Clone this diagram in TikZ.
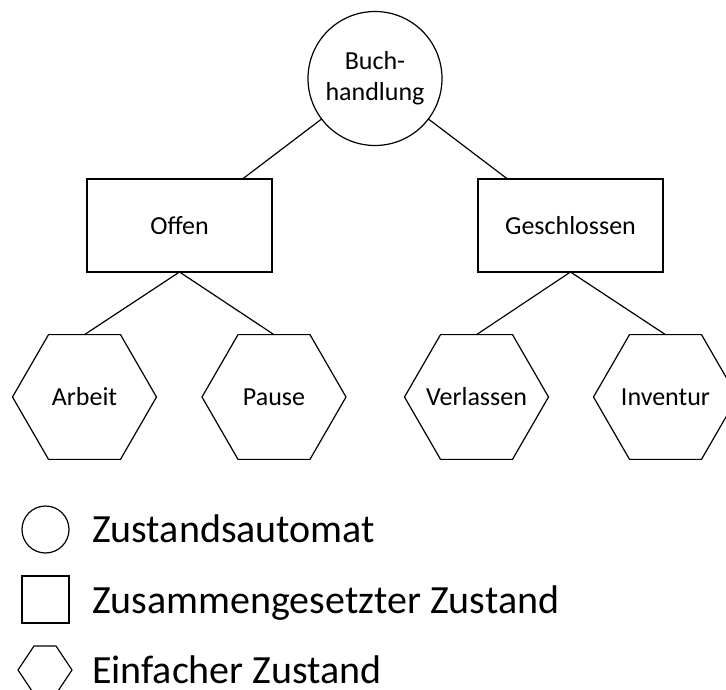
\documentclass[tikz,border=0pt]{standalone}
\usepackage{fontspec}
\setmainfont{Carlito}
\usetikzlibrary{shapes.geometric}

\begin{document}
\begin{tikzpicture}[x=1pt, y=-1pt, line width=1.2pt,
    every node/.style={inner sep=0pt, outer sep=0pt, font=\fontsize{26}{31}\selectfont},
    automat/.style={draw, circle, minimum size=134pt, align=center},
    zusammen/.style={draw, rectangle, minimum width=185pt, minimum height=93pt},
    einfach/.style={draw, regular polygon, regular polygon sides=6, minimum size=144pt, inner xsep=-30pt},
    legtext/.style={anchor=base west, font=\fontsize{40}{48}\selectfont}]
  \useasboundingbox (0,0) rectangle (726,690);
  % state machine
  \node[automat] (buch) at (375,78.5) {Buch-\\handlung};
  \node[zusammen] (offen) at (179.5,225.5) {Offen};
  \node[zusammen] (geschl) at (570.5,225.5) {Geschlossen};
  % simple states
  \node[einfach] (arbeit) at (84.5,397) {Arbeit};
  \node[einfach] (pause) at (274,397) {Pause};
  \node[einfach] (verl) at (476.5,397) {Verlassen};
  \node[einfach] (inv) at (665.5,397) {Inventur};
  % connections
  \draw (buch) -- ([xshift=63pt]offen.north);
  \draw (buch) -- ([xshift=-63pt]geschl.north);
  \draw (offen.south) -- (arbeit.north);
  \draw (offen.south) -- (pause.north);
  \draw (geschl.south) -- (verl.north);
  \draw (geschl.south) -- (inv.north);
  % legend
  \node[draw, circle, minimum size=47pt] (legcirc) at (45.5,529.5) {};
  \node[draw, rectangle, minimum size=47pt] (legrect) at (45.5,599.5) {};
  \draw (18,670) -- (34,646) -- (56,646) -- (72,670) -- (56,694) -- (34,694) -- cycle;
  \node[legtext] (legautomat) at (92,542) {Zustandsautomat};
  \node[legtext] (legzusammen) at (92,613) {Zusammengesetzter Zustand};
  \node[legtext] (legeinfach) at (92,683) {Einfacher Zustand};
\end{tikzpicture}
\end{document}
